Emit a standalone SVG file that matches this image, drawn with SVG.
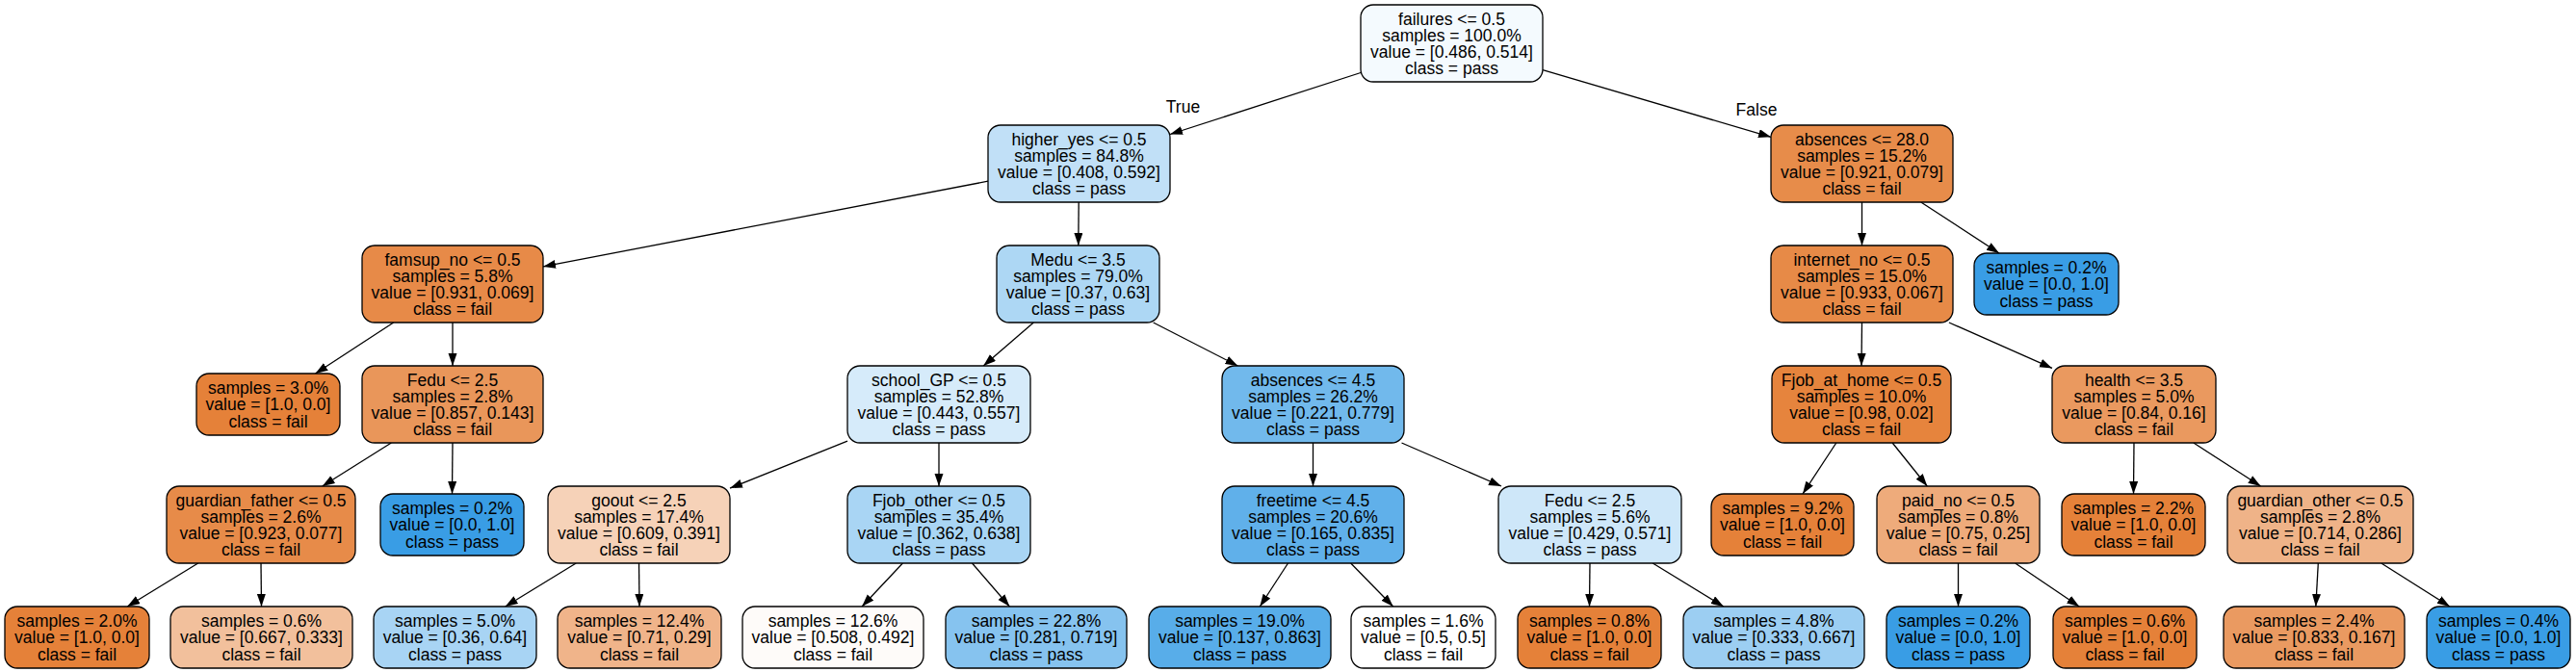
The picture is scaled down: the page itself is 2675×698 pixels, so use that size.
<svg xmlns="http://www.w3.org/2000/svg" width="2675" height="698" viewBox="0 0 2675 698">
<style>
.n rect { stroke:#000; stroke-width:1.3; }
text { font-family:"Liberation Sans", Arial, Helvetica, sans-serif; font-size:17.5px; text-anchor:middle; fill:#000; }
.e line { stroke:#000; stroke-width:1.3; marker-end:url(#ah); }
</style>
<defs>
<marker id="ah" markerUnits="userSpaceOnUse" markerWidth="14" markerHeight="10" refX="13" refY="4.5" orient="auto">
<path d="M0,0 L13,4.5 L0,9 z" fill="#000"/>
</marker>
</defs>
<rect width="2675" height="698" fill="#fff"/>
<g id="edges" class="e">
<line x1="1413" y1="75.5" x2="1215" y2="139.5"/>
<line x1="1602" y1="72.7" x2="1839" y2="142.3"/>
<line x1="1026" y1="188.2" x2="564" y2="276.9"/>
<line x1="1120.2" y1="210" x2="1119.8" y2="255"/>
<line x1="1933.5" y1="210" x2="1933.5" y2="255"/>
<line x1="1994.8" y1="210" x2="2076" y2="263"/>
<line x1="408.7" y1="335" x2="327.5" y2="388"/>
<line x1="470" y1="335" x2="470" y2="380"/>
<line x1="1073.3" y1="335" x2="1021.2" y2="380"/>
<line x1="1197.6" y1="335" x2="1285.4" y2="380"/>
<line x1="1933.5" y1="335" x2="1933" y2="380"/>
<line x1="2023.9" y1="335" x2="2131" y2="382.4"/>
<line x1="406.3" y1="460" x2="334.7" y2="505"/>
<line x1="470" y1="460" x2="469.5" y2="513"/>
<line x1="880" y1="458.1" x2="758" y2="507.1"/>
<line x1="975" y1="460" x2="975" y2="505"/>
<line x1="1363.5" y1="460" x2="1363.5" y2="505"/>
<line x1="1455.5" y1="460" x2="1559" y2="505"/>
<line x1="1906.8" y1="460" x2="1872" y2="513"/>
<line x1="1965.2" y1="460" x2="2001.3" y2="505"/>
<line x1="2216" y1="460" x2="2215.5" y2="513"/>
<line x1="2277.9" y1="460" x2="2347.6" y2="505"/>
<line x1="205.7" y1="585" x2="132.2" y2="630"/>
<line x1="271" y1="585" x2="271.5" y2="630"/>
<line x1="598.2" y1="585" x2="524.7" y2="630"/>
<line x1="663.5" y1="585" x2="664" y2="630"/>
<line x1="937.4" y1="585" x2="895.1" y2="630"/>
<line x1="1009.5" y1="585" x2="1048.4" y2="630"/>
<line x1="1337.5" y1="585" x2="1308.3" y2="630"/>
<line x1="1402.7" y1="585" x2="1446.7" y2="630"/>
<line x1="1651" y1="585" x2="1650.5" y2="630"/>
<line x1="1716.3" y1="585" x2="1789.8" y2="630"/>
<line x1="2033.5" y1="585" x2="2033.5" y2="630"/>
<line x1="2092.7" y1="585" x2="2159.2" y2="630"/>
<line x1="2407.3" y1="585" x2="2404.8" y2="630"/>
<line x1="2472.8" y1="585" x2="2543.9" y2="630"/>
<text x="1228.5" y="117">True</text>
<text x="1824" y="120">False</text>
</g>

<g id="n0" class="n"><rect x="1413" y="5" width="189" height="80" rx="13" fill="#f4fafe"/>
<text><tspan x="1507.5" y="25.5">failures &lt;= 0.5</tspan><tspan x="1507.5" y="42.8">samples = 100.0%</tspan><tspan x="1507.5" y="60.1">value = [0.486, 0.514]</tspan><tspan x="1507.5" y="77.4">class = pass</tspan></text></g>

<g id="n1" class="n"><rect x="1026" y="130" width="189" height="80" rx="13" fill="#c1e0f7"/>
<text><tspan x="1120.5" y="150.5">higher_yes &lt;= 0.5</tspan><tspan x="1120.5" y="167.8">samples = 84.8%</tspan><tspan x="1120.5" y="185.1">value = [0.408, 0.592]</tspan><tspan x="1120.5" y="202.4">class = pass</tspan></text></g>

<g id="n2" class="n"><rect x="1839" y="130" width="189" height="80" rx="13" fill="#e78c4a"/>
<text><tspan x="1933.5" y="150.5">absences &lt;= 28.0</tspan><tspan x="1933.5" y="167.8">samples = 15.2%</tspan><tspan x="1933.5" y="185.1">value = [0.921, 0.079]</tspan><tspan x="1933.5" y="202.4">class = fail</tspan></text></g>

<g id="n3" class="n"><rect x="376" y="255" width="188" height="80" rx="13" fill="#e78a48"/>
<text><tspan x="470" y="275.5">famsup_no &lt;= 0.5</tspan><tspan x="470" y="292.8">samples = 5.8%</tspan><tspan x="470" y="310.1">value = [0.931, 0.069]</tspan><tspan x="470" y="327.4">class = fail</tspan></text></g>

<g id="n4" class="n"><rect x="1035" y="255" width="169" height="80" rx="13" fill="#add7f4"/>
<text><tspan x="1119.5" y="275.5">Medu &lt;= 3.5</tspan><tspan x="1119.5" y="292.8">samples = 79.0%</tspan><tspan x="1119.5" y="310.1">value = [0.37, 0.63]</tspan><tspan x="1119.5" y="327.4">class = pass</tspan></text></g>

<g id="n5" class="n"><rect x="1839" y="255" width="189" height="80" rx="13" fill="#e78a47"/>
<text><tspan x="1933.5" y="275.5">internet_no &lt;= 0.5</tspan><tspan x="1933.5" y="292.8">samples = 15.0%</tspan><tspan x="1933.5" y="310.1">value = [0.933, 0.067]</tspan><tspan x="1933.5" y="327.4">class = fail</tspan></text></g>

<g id="n6" class="n"><rect x="2050" y="263" width="150" height="64" rx="13" fill="#399de5"/>
<text><tspan x="2125" y="284.1">samples = 0.2%</tspan><tspan x="2125" y="301.4">value = [0.0, 1.0]</tspan><tspan x="2125" y="318.7">class = pass</tspan></text></g>

<g id="n7" class="n"><rect x="204" y="388" width="149" height="64" rx="13" fill="#e58139"/>
<text><tspan x="278.5" y="409.1">samples = 3.0%</tspan><tspan x="278.5" y="426.4">value = [1.0, 0.0]</tspan><tspan x="278.5" y="443.7">class = fail</tspan></text></g>

<g id="n8" class="n"><rect x="376" y="380" width="188" height="80" rx="13" fill="#e9965a"/>
<text><tspan x="470" y="400.5">Fedu &lt;= 2.5</tspan><tspan x="470" y="417.8">samples = 2.8%</tspan><tspan x="470" y="435.1">value = [0.857, 0.143]</tspan><tspan x="470" y="452.4">class = fail</tspan></text></g>

<g id="n9" class="n"><rect x="880" y="380" width="190" height="80" rx="13" fill="#d6ebfa"/>
<text><tspan x="975" y="400.5">school_GP &lt;= 0.5</tspan><tspan x="975" y="417.8">samples = 52.8%</tspan><tspan x="975" y="435.1">value = [0.443, 0.557]</tspan><tspan x="975" y="452.4">class = pass</tspan></text></g>

<g id="n10" class="n"><rect x="1269" y="380" width="189" height="80" rx="13" fill="#71b9ec"/>
<text><tspan x="1363.5" y="400.5">absences &lt;= 4.5</tspan><tspan x="1363.5" y="417.8">samples = 26.2%</tspan><tspan x="1363.5" y="435.1">value = [0.221, 0.779]</tspan><tspan x="1363.5" y="452.4">class = pass</tspan></text></g>

<g id="n11" class="n"><rect x="1840" y="380" width="186" height="80" rx="13" fill="#e6843d"/>
<text><tspan x="1933" y="400.5">Fjob_at_home &lt;= 0.5</tspan><tspan x="1933" y="417.8">samples = 10.0%</tspan><tspan x="1933" y="435.1">value = [0.98, 0.02]</tspan><tspan x="1933" y="452.4">class = fail</tspan></text></g>

<g id="n12" class="n"><rect x="2131" y="380" width="170" height="80" rx="13" fill="#ea995f"/>
<text><tspan x="2216" y="400.5">health &lt;= 3.5</tspan><tspan x="2216" y="417.8">samples = 5.0%</tspan><tspan x="2216" y="435.1">value = [0.84, 0.16]</tspan><tspan x="2216" y="452.4">class = fail</tspan></text></g>

<g id="n13" class="n"><rect x="173" y="505" width="196" height="80" rx="13" fill="#e78b49"/>
<text><tspan x="271" y="525.5">guardian_father &lt;= 0.5</tspan><tspan x="271" y="542.8">samples = 2.6%</tspan><tspan x="271" y="560.1">value = [0.923, 0.077]</tspan><tspan x="271" y="577.4">class = fail</tspan></text></g>

<g id="n14" class="n"><rect x="395" y="513" width="149" height="64" rx="13" fill="#399de5"/>
<text><tspan x="469.5" y="534.1">samples = 0.2%</tspan><tspan x="469.5" y="551.4">value = [0.0, 1.0]</tspan><tspan x="469.5" y="568.7">class = pass</tspan></text></g>

<g id="n15" class="n"><rect x="569" y="505" width="189" height="80" rx="13" fill="#f6d2b8"/>
<text><tspan x="663.5" y="525.5">goout &lt;= 2.5</tspan><tspan x="663.5" y="542.8">samples = 17.4%</tspan><tspan x="663.5" y="560.1">value = [0.609, 0.391]</tspan><tspan x="663.5" y="577.4">class = fail</tspan></text></g>

<g id="n16" class="n"><rect x="880" y="505" width="190" height="80" rx="13" fill="#a9d5f4"/>
<text><tspan x="975" y="525.5">Fjob_other &lt;= 0.5</tspan><tspan x="975" y="542.8">samples = 35.4%</tspan><tspan x="975" y="560.1">value = [0.362, 0.638]</tspan><tspan x="975" y="577.4">class = pass</tspan></text></g>

<g id="n17" class="n"><rect x="1269" y="505" width="189" height="80" rx="13" fill="#60b0ea"/>
<text><tspan x="1363.5" y="525.5">freetime &lt;= 4.5</tspan><tspan x="1363.5" y="542.8">samples = 20.6%</tspan><tspan x="1363.5" y="560.1">value = [0.165, 0.835]</tspan><tspan x="1363.5" y="577.4">class = pass</tspan></text></g>

<g id="n18" class="n"><rect x="1556" y="505" width="190" height="80" rx="13" fill="#cee7f9"/>
<text><tspan x="1651" y="525.5">Fedu &lt;= 2.5</tspan><tspan x="1651" y="542.8">samples = 5.6%</tspan><tspan x="1651" y="560.1">value = [0.429, 0.571]</tspan><tspan x="1651" y="577.4">class = pass</tspan></text></g>

<g id="n19" class="n"><rect x="1777" y="513" width="148" height="64" rx="13" fill="#e58139"/>
<text><tspan x="1851" y="534.1">samples = 9.2%</tspan><tspan x="1851" y="551.4">value = [1.0, 0.0]</tspan><tspan x="1851" y="568.7">class = fail</tspan></text></g>

<g id="n20" class="n"><rect x="1949" y="505" width="169" height="80" rx="13" fill="#eeab7b"/>
<text><tspan x="2033.5" y="525.5">paid_no &lt;= 0.5</tspan><tspan x="2033.5" y="542.8">samples = 0.8%</tspan><tspan x="2033.5" y="560.1">value = [0.75, 0.25]</tspan><tspan x="2033.5" y="577.4">class = fail</tspan></text></g>

<g id="n21" class="n"><rect x="2141" y="513" width="149" height="64" rx="13" fill="#e58139"/>
<text><tspan x="2215.5" y="534.1">samples = 2.2%</tspan><tspan x="2215.5" y="551.4">value = [1.0, 0.0]</tspan><tspan x="2215.5" y="568.7">class = fail</tspan></text></g>

<g id="n22" class="n"><rect x="2313" y="505" width="193" height="80" rx="13" fill="#efb388"/>
<text><tspan x="2409.5" y="525.5">guardian_other &lt;= 0.5</tspan><tspan x="2409.5" y="542.8">samples = 2.8%</tspan><tspan x="2409.5" y="560.1">value = [0.714, 0.286]</tspan><tspan x="2409.5" y="577.4">class = fail</tspan></text></g>

<g id="n23" class="n"><rect x="5" y="630" width="150" height="64" rx="13" fill="#e58139"/>
<text><tspan x="80" y="651.1">samples = 2.0%</tspan><tspan x="80" y="668.4">value = [1.0, 0.0]</tspan><tspan x="80" y="685.7">class = fail</tspan></text></g>

<g id="n24" class="n"><rect x="177" y="630" width="189" height="64" rx="13" fill="#f2c09c"/>
<text><tspan x="271.5" y="651.1">samples = 0.6%</tspan><tspan x="271.5" y="668.4">value = [0.667, 0.333]</tspan><tspan x="271.5" y="685.7">class = fail</tspan></text></g>

<g id="n25" class="n"><rect x="388" y="630" width="169" height="64" rx="13" fill="#a8d4f4"/>
<text><tspan x="472.5" y="651.1">samples = 5.0%</tspan><tspan x="472.5" y="668.4">value = [0.36, 0.64]</tspan><tspan x="472.5" y="685.7">class = pass</tspan></text></g>

<g id="n26" class="n"><rect x="579" y="630" width="170" height="64" rx="13" fill="#f0b48a"/>
<text><tspan x="664" y="651.1">samples = 12.4%</tspan><tspan x="664" y="668.4">value = [0.71, 0.29]</tspan><tspan x="664" y="685.7">class = fail</tspan></text></g>

<g id="n27" class="n"><rect x="771" y="630" width="188" height="64" rx="13" fill="#fefbf9"/>
<text><tspan x="865" y="651.1">samples = 12.6%</tspan><tspan x="865" y="668.4">value = [0.508, 0.492]</tspan><tspan x="865" y="685.7">class = fail</tspan></text></g>

<g id="n28" class="n"><rect x="982" y="630" width="188" height="64" rx="13" fill="#86c3ef"/>
<text><tspan x="1076" y="651.1">samples = 22.8%</tspan><tspan x="1076" y="668.4">value = [0.281, 0.719]</tspan><tspan x="1076" y="685.7">class = pass</tspan></text></g>

<g id="n29" class="n"><rect x="1193" y="630" width="189" height="64" rx="13" fill="#58ade9"/>
<text><tspan x="1287.5" y="651.1">samples = 19.0%</tspan><tspan x="1287.5" y="668.4">value = [0.137, 0.863]</tspan><tspan x="1287.5" y="685.7">class = pass</tspan></text></g>

<g id="n30" class="n"><rect x="1403" y="630" width="150" height="64" rx="13" fill="#ffffff"/>
<text><tspan x="1478" y="651.1">samples = 1.6%</tspan><tspan x="1478" y="668.4">value = [0.5, 0.5]</tspan><tspan x="1478" y="685.7">class = fail</tspan></text></g>

<g id="n31" class="n"><rect x="1576" y="630" width="149" height="64" rx="13" fill="#e58139"/>
<text><tspan x="1650.5" y="651.1">samples = 0.8%</tspan><tspan x="1650.5" y="668.4">value = [1.0, 0.0]</tspan><tspan x="1650.5" y="685.7">class = fail</tspan></text></g>

<g id="n32" class="n"><rect x="1748" y="630" width="188" height="64" rx="13" fill="#9ccef2"/>
<text><tspan x="1842" y="651.1">samples = 4.8%</tspan><tspan x="1842" y="668.4">value = [0.333, 0.667]</tspan><tspan x="1842" y="685.7">class = pass</tspan></text></g>

<g id="n33" class="n"><rect x="1959" y="630" width="149" height="64" rx="13" fill="#399de5"/>
<text><tspan x="2033.5" y="651.1">samples = 0.2%</tspan><tspan x="2033.5" y="668.4">value = [0.0, 1.0]</tspan><tspan x="2033.5" y="685.7">class = pass</tspan></text></g>

<g id="n34" class="n"><rect x="2132" y="630" width="149" height="64" rx="13" fill="#e58139"/>
<text><tspan x="2206.5" y="651.1">samples = 0.6%</tspan><tspan x="2206.5" y="668.4">value = [1.0, 0.0]</tspan><tspan x="2206.5" y="685.7">class = fail</tspan></text></g>

<g id="n35" class="n"><rect x="2309" y="630" width="188" height="64" rx="13" fill="#ea9a61"/>
<text><tspan x="2403" y="651.1">samples = 2.4%</tspan><tspan x="2403" y="668.4">value = [0.833, 0.167]</tspan><tspan x="2403" y="685.7">class = fail</tspan></text></g>

<g id="n36" class="n"><rect x="2520" y="630" width="149" height="64" rx="13" fill="#399de5"/>
<text><tspan x="2594.5" y="651.1">samples = 0.4%</tspan><tspan x="2594.5" y="668.4">value = [0.0, 1.0]</tspan><tspan x="2594.5" y="685.7">class = pass</tspan></text></g>
</svg>
